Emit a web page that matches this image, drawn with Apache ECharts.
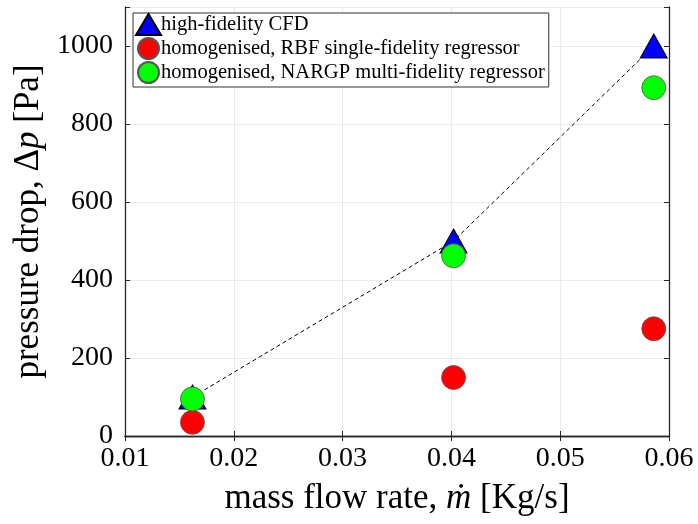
<!DOCTYPE html>
<html>
<head>
<meta charset="utf-8">
<script src="https://cdn.jsdelivr.net/npm/echarts@6/dist/echarts.min.js"></script>
<style>
html, body { margin: 0; padding: 0; background: #fff; }
#main { width: 698px; height: 524px; }
</style>
</head>
<body>
<div id="main"></div>
<script>
// mass flow rate [Kg/s]
const massFlow = [0.0162, 0.0402, 0.0586];
// pressure drop [Pa]
const cfdDrop = [100, 500, 1000];
const rbfDrop = [35, 150, 275];
const nargpDrop = [95, 462, 893];

const names = [
    'high-fidelity CFD',
    'homogenised, RBF single-fidelity regressor',
    'homogenised, NARGP multi-fidelity regressor'
];

const font = 'Liberation Serif';

function pairs(ys) {
    return massFlow.map((x, i) => [x, ys[i]]);
}

const titleRich = {
    a: { fontFamily: font, fontSize: 35, color: '#000' },
    i: { fontFamily: font, fontSize: 35, color: '#000', fontStyle: 'italic' }
};

let chart = echarts.init(document.getElementById('main'));
let option = {
    backgroundColor: '#fff',
    animation: false,
    grid: { left: 125, right: 29, top: 7, bottom: 88 },
    legend: {
        orient: 'vertical',
        left: 133,
        top: 13,
        padding: [0, 4, 3, 2],
        itemGap: 1,
        itemWidth: 25,
        itemHeight: 21,
        borderColor: '#333',
        borderWidth: 1,
        backgroundColor: '#fff',
        textStyle: { fontFamily: font, fontSize: 20.5, lineHeight: 23, color: '#000', padding: [0, 0, 0, -5] },
        data: [
            { name: names[0], icon: 'triangle' },
            { name: names[1], icon: 'circle' },
            { name: names[2], icon: 'circle' }
        ]
    },
    xAxis: [{
        type: 'value',
        min: 0.01,
        max: 0.06,
        interval: 0.01,
        name: '{a|mass flow rate, }{i|ṁ}{a| [Kg/s]}',
        nameLocation: 'middle',
        nameGap: 45,
        nameTextStyle: { rich: titleRich },
        axisLine: { lineStyle: { color: '#262626', width: 1.3 } },
        axisTick: { inside: true, length: 5, lineStyle: { color: '#262626' } },
        axisLabel: {
            fontFamily: font, fontSize: 28, color: '#000', margin: 9,
            formatter: v => v.toFixed(2)
        },
        splitLine: { lineStyle: { color: '#ebebeb', width: 1 } }
    }, {
        type: 'value',
        position: 'top',
        min: 0.01,
        max: 0.06,
        interval: 0.01,
        axisLine: { lineStyle: { color: '#262626', width: 1.3 } },
        axisTick: { inside: true, length: 5, lineStyle: { color: '#262626' } },
        axisLabel: { show: false },
        splitLine: { show: false }
    }],
    yAxis: [{
        type: 'value',
        min: 0,
        max: 1100,
        interval: 200,
        name: '{a|pressure drop, Δ}{i|p}{a| [Pa]}',
        nameLocation: 'middle',
        nameGap: 71,
        nameTextStyle: { rich: titleRich },
        axisLine: { show: true, lineStyle: { color: '#262626', width: 1.3 } },
        axisTick: { show: true, inside: true, length: 5, lineStyle: { color: '#262626' } },
        axisLabel: {
            fontFamily: font, fontSize: 28, color: '#000', margin: 12,
            formatter: v => (v > 1000 ? '' : v)
        },
        splitLine: { lineStyle: { color: '#ebebeb', width: 1 } }
    }, {
        type: 'value',
        position: 'right',
        min: 0,
        max: 1100,
        interval: 200,
        axisLine: { show: true, lineStyle: { color: '#262626', width: 1.3 } },
        axisTick: { show: true, inside: true, length: 5, lineStyle: { color: '#262626' } },
        axisLabel: { show: false },
        splitLine: { show: false }
    }],
    series: [{
        name: names[0],
        type: 'line',
        data: pairs(cfdDrop),
        symbol: 'triangle',
        symbolSize: [27, 24],
        itemStyle: { color: '#0000ff', borderColor: '#000', borderWidth: 1 },
        lineStyle: { color: '#000', width: 1, type: [4, 3] },
        z: 2
    }, {
        name: names[1],
        type: 'scatter',
        data: pairs(rbfDrop),
        symbol: 'circle',
        symbolSize: 24,
        itemStyle: { color: '#ff0000', borderColor: '#555', borderWidth: 0.8, opacity: 1 },
        z: 3
    }, {
        name: names[2],
        type: 'scatter',
        data: pairs(nargpDrop),
        symbol: 'circle',
        symbolSize: 24,
        itemStyle: { color: '#00ff00', borderColor: '#555', borderWidth: 0.8, opacity: 1 },
        z: 4
    }]
};
chart.setOption(option);
</script>
</body>
</html>
